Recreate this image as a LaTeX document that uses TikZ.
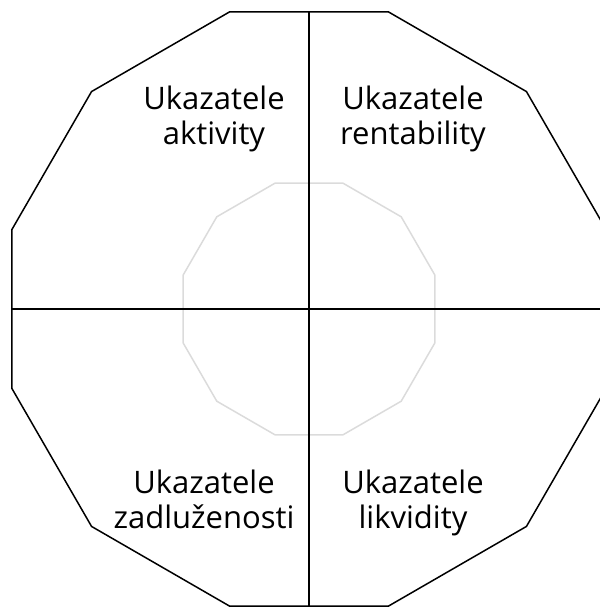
\documentclass[tikz,border=0pt]{standalone}
\usepackage{fontspec}
\setmainfont{Open Sans}
\usepackage{tikz}
\tikzset{
  outerring/.style={line width=1.5pt,black,line join=miter},
  innerring/.style={line width=1.5pt,gray!28},
  axisline/.style={line width=1.5pt,black},
  labeltext/.style={align=center,inner sep=0pt,
    font=\fontsize{31}{35}\selectfont}
}
\begin{document}
\begin{tikzpicture}[x=1pt,y=1pt]
  \useasboundingbox (-309,-298) rectangle (290,309);
  % outer and inner dodecagons
  \draw[outerring] (15:307.5) \foreach \a in {45,75,...,345} { -- (\a:307.5)} -- cycle;
  \draw[innerring] (15:130.4) \foreach \a in {45,75,...,345} { -- (\a:130.4)} -- cycle;

  % axes
  \coordinate (top) at (0,297);
  \coordinate (bottom) at (0,-297);
  \coordinate (left) at (-297,0);
  \coordinate (right) at (297,0);
  \draw[axisline] (top) -- (bottom);
  \draw[axisline] (left) -- (right);

  % quadrant labels
  \node[labeltext,anchor=base] (aktivity) at (-95,164) {Ukazatele\\aktivity};
  \node[labeltext,anchor=base] (rentability) at (104,164) {Ukazatele\\rentability};
  \node[labeltext,anchor=base] (zadluzenosti) at (-105,-219) {Ukazatele\\zadluženosti};
  \node[labeltext,anchor=base] (likvidity) at (104,-219) {Ukazatele\\likvidity};
\end{tikzpicture}
\end{document}
